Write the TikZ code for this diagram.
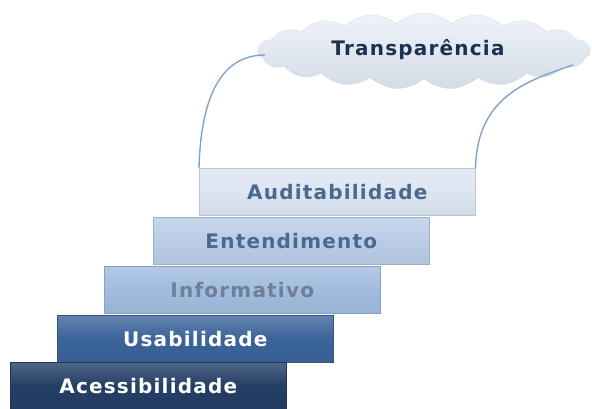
\documentclass[tikz,border=0pt]{standalone}
\usepackage{fontspec}
\setmainfont{DejaVu Sans}
\newfontfamily\stepfont{DejaVu Sans}[LetterSpace=6]
\usepackage{tikz}
\usetikzlibrary{shapes.symbols, positioning}

\definecolor{navy}{HTML}{243F66}
\definecolor{midblue}{HTML}{3B6499}
\definecolor{paleblue}{HTML}{A1BCDF}
\definecolor{lightblue}{HTML}{BACDE6}
\definecolor{iceblue}{HTML}{DCE6F2}
\definecolor{greytext}{HTML}{6F8096}
\definecolor{steeltext}{HTML}{4A6990}
\definecolor{cloudtext}{HTML}{1C3152}
\definecolor{wire}{HTML}{7FA3D0}

\begin{document}
\begin{tikzpicture}[x=1pt, y=-1pt,
    stepbox/.style={anchor=north west, minimum width=276pt, minimum height=47pt,
        inner sep=0pt, draw=#1!85!black, line width=0.5pt,
        top color=#1!80!white, bottom color=#1!95!black, middle color=#1,
        font=\stepfont\bfseries\fontsize{20}{24}\selectfont},
    wirestyle/.style={wire, line width=1.4pt}]
        \useasboundingbox (0,0) rectangle (592,408);
        % staircase, top step first
        \node[stepbox=iceblue, text=steeltext] (aud) at (199,168) {Auditabilidade};
        \node[stepbox=lightblue, text=steeltext] (ent) at (153,217) {Entendimento};
        \node[stepbox=paleblue, text=greytext] (inf) at (104,266) {Informativo};
        \node[stepbox=midblue, text=white] (usa) at (57,315) {Usabilidade};
        \node[stepbox=navy, text=white] (ace) at (10,362) {Acessibilidade};
        % cloud on top
        \node[cloud, cloud puffs=19, cloud puff arc=85, aspect=4.6,
            minimum width=332pt, minimum height=76pt, inner sep=0pt,
            draw=iceblue!85!gray, line width=0.3pt,
            top color=iceblue!45!white, bottom color=iceblue!90!gray,
            text=cloudtext, font=\stepfont\bfseries\fontsize{20}{24}\selectfont]
            (sky) at (424,51) {};
        \node[text=cloudtext, font=\stepfont\bfseries\fontsize{20}{24}\selectfont]
            (skylabel) at (418,50) {Transparência};
        \coordinate (skyleft) at (265,55);
        \coordinate (skyright) at (573,65);
        \draw[wirestyle] (aud.north west) .. controls (201,95) and (222,55) .. (skyleft);
        \draw[wirestyle] (aud.north east) .. controls (477,95) and (530,80) .. (skyright);
    \end{tikzpicture}
\end{document}
